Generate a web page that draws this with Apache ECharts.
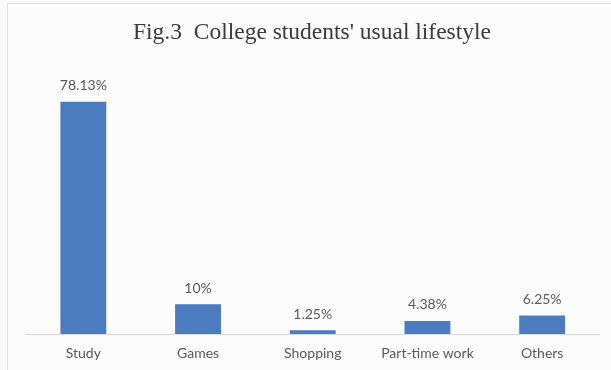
<!DOCTYPE html>
<html>
<head>
<meta charset="utf-8">
<script src="https://cdn.jsdelivr.net/npm/echarts@6/dist/echarts.min.js"></script>
<style>
html,body{margin:0;padding:0;background:#ffffff;}
#main{width:611px;height:370px;}
</style>
</head>
<body>
<div id="main"></div>
<script>
const categories = ['Study', 'Games', 'Shopping', 'Part-time work', 'Others'];
const values = [78.13, 10, 1.25, 4.38, 6.25];
const valueLabels = ['78.13%', '10%', '1.25%', '4.38%', '6.25%'];
const titleText = "Fig.3  College students' usual lifestyle";

const chart = echarts.init(document.getElementById('main'), null, {renderer: 'canvas'});
chart.setOption({
  backgroundColor: '#fcfcfc',
  animation: false,
  graphic: [{
    type: 'rect',
    shape: {x: 7.5, y: 3.5, width: 620, height: 380},
    style: {fill: 'none', stroke: '#e2e2e2', lineWidth: 1},
    silent: true
  }],
  title: {
    text: titleText,
    left: 128,
    top: 16,
    textStyle: {
      fontFamily: '"Liberation Serif", "DejaVu Serif", serif',
      fontSize: 23.5,
      fontWeight: 'normal',
      color: '#3a3a3a'
    }
  },
  grid: {left: 26, right: 11.5, top: 66.4, bottom: 36},
  xAxis: {
    type: 'category',
    data: categories,
    axisLine: {lineStyle: {color: '#d9d9d9', width: 1}},
    axisTick: {show: false},
    axisLabel: {
      color: '#595959',
      fontFamily: 'Lato, "Noto Sans", sans-serif',
      fontSize: 14,
      margin: 12,
      interval: 0
    }
  },
  yAxis: {
    type: 'value',
    min: 0,
    max: 90,
    show: false
  },
  series: [{
    type: 'bar',
    data: values,
    barWidth: '40%',
    itemStyle: {color: '#4a7cbf'},
    label: {
      show: true,
      position: 'top',
      distance: 9,
      color: '#595959',
      fontFamily: 'Lato, "Noto Sans", sans-serif',
      fontSize: 14,
      formatter: p => valueLabels[p.dataIndex]
    }
  }]
});
</script>
</body>
</html>
